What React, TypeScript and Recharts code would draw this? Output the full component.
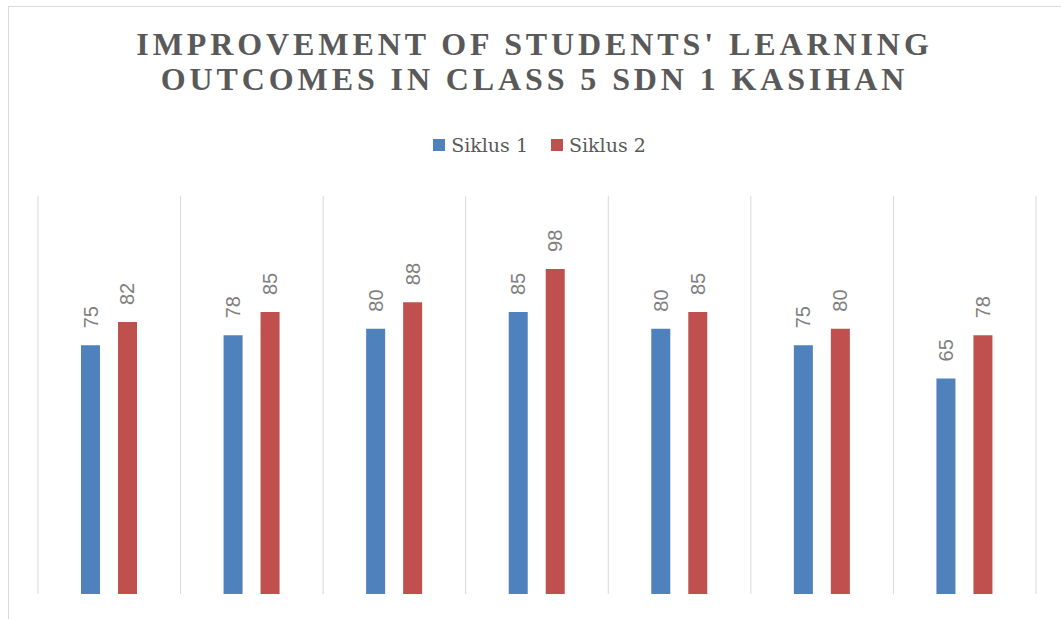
import React from "react";
import { BarChart, Bar, XAxis, YAxis, CartesianGrid } from "recharts";

const categories = ["1", "2", "3", "4", "5", "6", "7"];
const siklus1 = [75, 78, 80, 85, 80, 75, 65];
const siklus2 = [82, 85, 88, 98, 85, 80, 78];
const seriesNames = ["Siklus 1", "Siklus 2"];
const seriesColors = ["#4f81bd", "#c0504d"];

const data = categories.map((c, i) => ({
  name: c,
  siklus1: siklus1[i],
  siklus2: siklus2[i],
}));

const W = 1061;
const H = 619;

function renderValueLabel(props: any) {
  const x = Number(props.x);
  const y = Number(props.y);
  const w = Number(props.width);
  const cx = x + w / 2;
  const ty = y - 17;
  return (
    <text
      x={cx}
      y={ty}
      transform={`rotate(-90 ${cx} ${ty})`}
      textAnchor="start"
      dominantBaseline="central"
      fill="#7f7f7f"
      fontSize={20}
      fontFamily="Liberation Sans"
    >
      {props.value}
    </text>
  );
}

// grid lines sit on the category boundaries, not on the centres
const boundaryLines = ({ offset }: any) => {
  const lines: number[] = [];
  for (let i = 0; i <= categories.length; i++) {
    lines.push(offset.left + (offset.width / categories.length) * i);
  }
  return lines;
};

export default function App() {
  return (
    <div
      style={{
        position: "absolute",
        left: 0,
        top: 0,
        width: W,
        height: H,
        background: "#fff",
        overflow: "hidden",
      }}
    >
      <div
        style={{
          position: "absolute",
          left: 8,
          top: 6,
          width: W - 8,
          height: H - 6,
          borderLeft: "1px solid #d9d9d9",
          borderTop: "1px solid #d9d9d9",
          boxSizing: "border-box",
        }}
      />
      <div
        style={{
          position: "absolute",
          left: 0,
          top: 27,
          width: W + 8,
          textAlign: "center",
          fontFamily: "Liberation Serif",
          fontWeight: "bold",
          fontSize: 32,
          lineHeight: "35px",
          letterSpacing: 3.9,
          color: "#595959",
        }}
      >
        IMPROVEMENT OF STUDENTS' LEARNING
        <br />
        OUTCOMES IN CLASS 5 SDN 1 KASIHAN
      </div>
      <div
        style={{
          position: "absolute",
          left: 0,
          top: 134,
          width: W + 18,
          display: "flex",
          justifyContent: "center",
          fontFamily: "DejaVu Serif",
          fontSize: 19,
          lineHeight: "22px",
          color: "#595959",
        }}
      >
        {seriesNames.map((n, i) => (
          <div
            key={n}
            style={{ display: "flex", alignItems: "center", marginRight: i === 0 ? 23 : 0 }}
          >
            <span
              style={{
                display: "inline-block",
                width: 12,
                height: 12,
                background: seriesColors[i],
                marginRight: 6,
              }}
            />
            <span>{n}</span>
          </div>
        ))}
      </div>
      <BarChart
        width={W}
        height={H}
        data={data}
        margin={{ top: 196, right: 25, bottom: 25, left: 38 }}
        barGap={18}
        barSize={19}
      >
        <CartesianGrid
          horizontal={false}
          stroke="#d9d9d9"
          verticalCoordinatesGenerator={boundaryLines}
        />
        <XAxis dataKey="name" hide />
        <YAxis hide domain={[0, 120]} />
        <Bar
          dataKey="siklus1"
          name={seriesNames[0]}
          fill={seriesColors[0]}
          isAnimationActive={false}
          label={renderValueLabel}
        />
        <Bar
          dataKey="siklus2"
          name={seriesNames[1]}
          fill={seriesColors[1]}
          isAnimationActive={false}
          label={renderValueLabel}
        />
      </BarChart>
    </div>
  );
}
